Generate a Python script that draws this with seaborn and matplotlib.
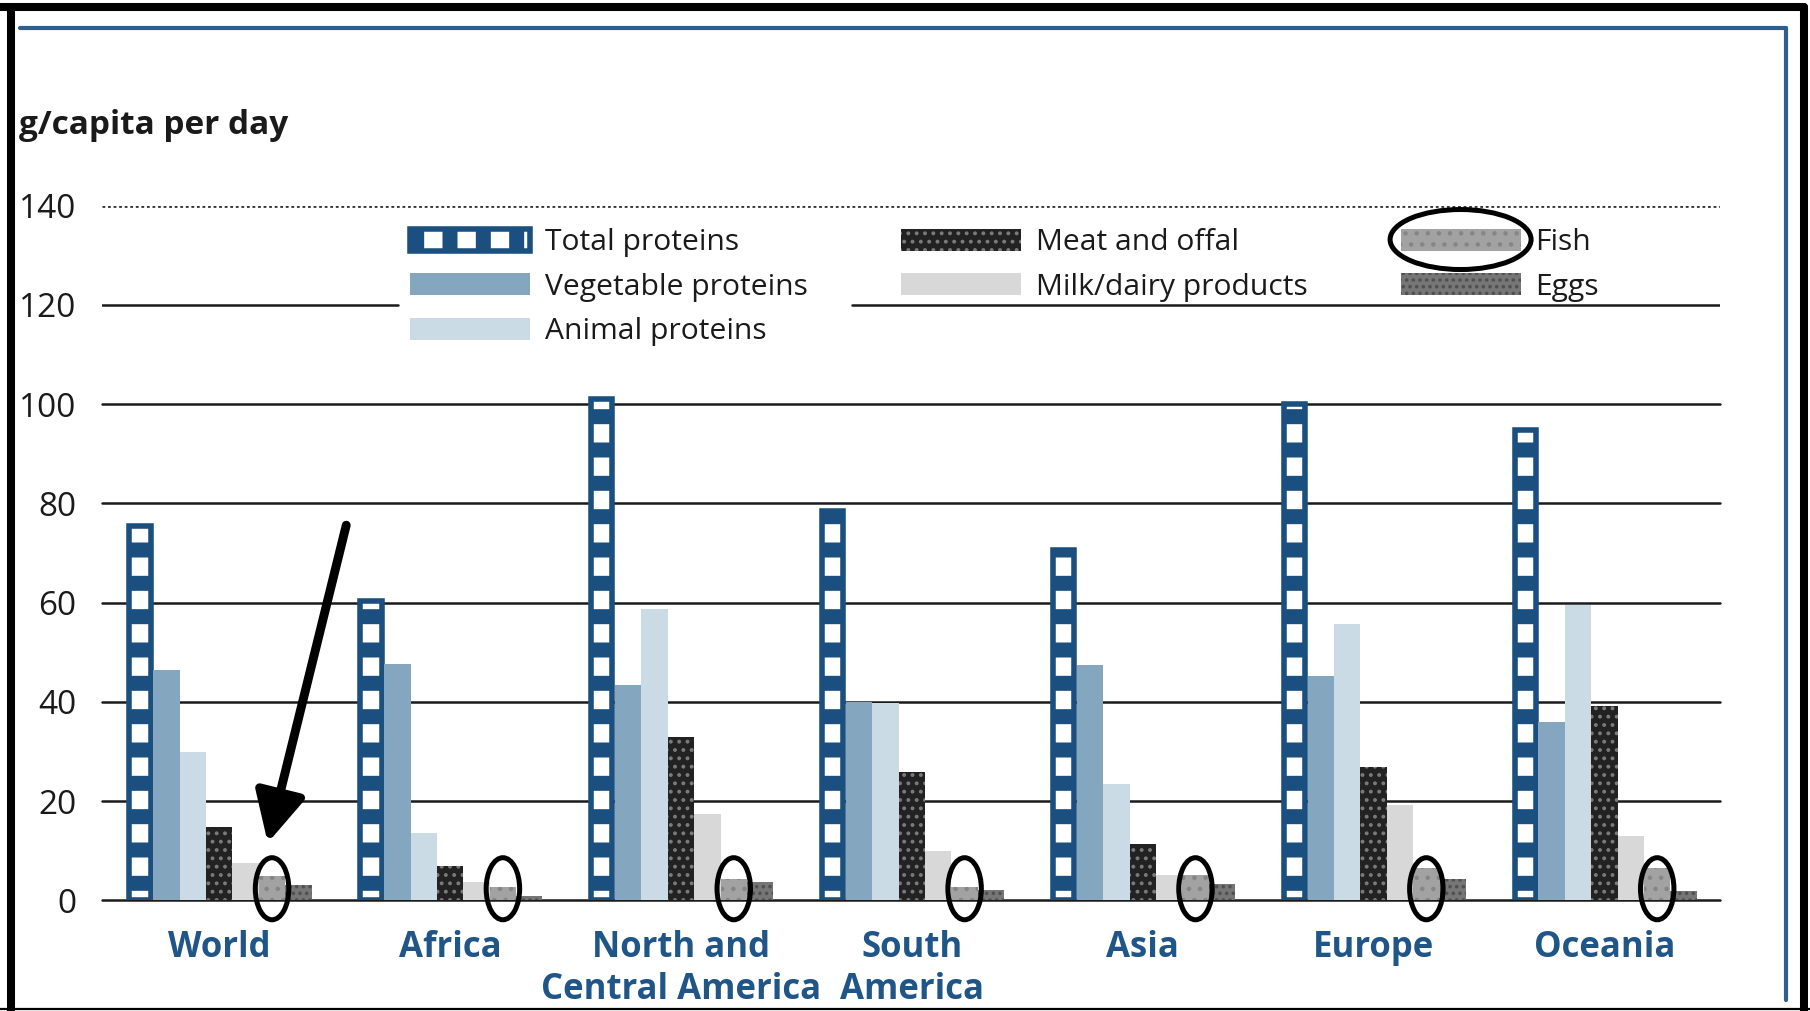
import pandas as pd
import matplotlib.pyplot as plt
import matplotlib.patches as mpatches
from matplotlib.lines import Line2D
import seaborn as sns

# protein supply, g/capita per day
regions = ['World', 'Africa', 'North and\nCentral America', 'South\nAmerica',
           'Asia', 'Europe', 'Oceania']
series = ['Total proteins', 'Vegetable proteins', 'Animal proteins',
          'Meat and offal', 'Milk/dairy products', 'Fish', 'Eggs']
total_proteins = [75.4, 60.4, 101.0, 78.5, 70.5, 100.0, 94.8]
vegetable_proteins = [46.5, 47.6, 43.4, 39.9, 47.4, 45.2, 36.0]
animal_proteins = [29.8, 13.6, 58.7, 39.8, 23.5, 55.6, 59.6]
meat_offal = [14.8, 7.0, 33.0, 25.9, 11.3, 26.9, 39.1]
milk_dairy = [7.6, 3.8, 17.5, 10.0, 5.1, 19.3, 13.0]
fish = [5.0, 2.6, 4.4, 2.6, 5.1, 6.5, 6.5]
eggs = [3.2, 0.8, 3.8, 2.0, 3.3, 4.3, 1.9]
yticks = [0, 20, 40, 60, 80, 100, 120, 140]

sns.set_style('white')
plt.rcParams['font.family'] = ['Open Sans', 'DejaVu Sans']

df = pd.DataFrame({'region': regions,
                   'Total proteins': total_proteins,
                   'Vegetable proteins': vegetable_proteins,
                   'Animal proteins': animal_proteins,
                   'Meat and offal': meat_offal,
                   'Milk/dairy products': milk_dairy,
                   'Fish': fish,
                   'Eggs': eggs})
df = df.melt(id_vars='region', var_name='series', value_name='value')

navy = '#1b4f7f'
label_blue = '#1f5587'
palette = {'Total proteins': 'white',
           'Vegetable proteins': '#84a7bf',
           'Animal proteins': '#cbdbe5',
           'Meat and offal': '#222222',
           'Milk/dairy products': '#d8d8d8',
           'Fish': '#a2a2a2',
           'Eggs': '#767676'}
# hatch, hatch colour, edge width, hatch width
styles = {'Total proteins': ('-', navy, 2.0, 5.4),
          'Meat and offal': ('....', '#7a7a7a', 0, 0.8),
          'Fish': ('...', '#858585', 0, 0.8),
          'Eggs': ('.....', '#505050', 0, 0.8)}

fig = plt.figure(figsize=(9.05, 5.055), dpi=200)
ax = fig.add_axes([0.0561, 0.1094, 0.8941, 0.6873])

sns.barplot(data=df, x='region', y='value', hue='series', order=regions,
            hue_order=series, palette=palette, width=0.8, saturation=1,
            legend=False, ax=ax, zorder=3)


def style_patch(p, name):
    p.set_linewidth(0)
    p.set_edgecolor(palette[name])
    if name in styles:
        h, hc, lw, hlw = styles[name]
        p.set_hatch(h)
        p.set_edgecolor(hc)
        p.set_linewidth(lw)
        if hasattr(p, 'set_hatch_linewidth'):
            p.set_hatch_linewidth(hlw)


for cont, name in zip(ax.containers, series):
    for bar in cont:
        style_patch(bar, name)
        if name == 'Total proteins':
            # keep the outer width of the bar once the thick edge is added
            d = 0.022
            bar.set_x(bar.get_x() + d / 2)
            bar.set_width(bar.get_width() - d)

# grid lines
for t in yticks:
    if t == 140:
        ax.axhline(t, color='#333333', lw=1.0, ls=(0, (1, 1)), zorder=1)
    elif t == 120:
        ax.axhline(t, xmax=0.183, color='#1a1a1a', lw=0.9, zorder=1)
        ax.axhline(t, xmin=0.464, color='#1a1a1a', lw=0.9, zorder=1)
    else:
        ax.axhline(t, color='#1a1a1a', lw=0.9, zorder=1, clip_on=False)

ax.set_xlim(-0.51, 6.5)
ax.set_ylim(0, 140)
ax.set_yticks(yticks)
ax.set_xlabel('')
ax.set_ylabel('')
sns.despine(ax=ax, left=True, bottom=True)
ax.tick_params(axis='y', length=0, labelsize=12, labelcolor='#1a1a1a', pad=9)
ax.tick_params(axis='x', length=0, labelsize=12.5, labelcolor=label_blue, pad=10.5)
for lab in ax.get_xticklabels():
    lab.set_fontweight('bold')
    lab.set_linespacing(1.25)

# circles round the fish bars and arrow to world fish
fish_cont = ax.containers[series.index('Fish')]
for bar in fish_cont:
    cx = bar.get_x() + bar.get_width() / 2
    ax.add_patch(mpatches.Ellipse((cx, 2.35), 0.145, 12.5, fill=False,
                                  ec='black', lw=1.8, clip_on=False, zorder=6))
ax.annotate('', xy=(0.21, 11.6), xytext=(0.55, 75.6),
            arrowprops=dict(arrowstyle='-|>,head_length=0.75,head_width=0.38',
                            color='black', lw=3.2, mutation_scale=20,
                            shrinkA=0, shrinkB=0), zorder=7)

# legend
handles = [mpatches.Patch(facecolor=palette[n], label=n) for n in series]
leg = ax.legend(handles=handles, loc='upper left', bbox_to_anchor=(0.2265, 0.7745),
                bbox_transform=fig.transFigure, ncol=3, frameon=False,
                fontsize=10.8, handlelength=4.0, handleheight=0.75,
                handletextpad=0.5, columnspacing=3.1, labelspacing=0.52,
                borderpad=0, borderaxespad=0)
for p, name in zip(leg.legend_handles, series):
    style_patch(p, name)
    if name == 'Total proteins':
        p.set_hatch('|')
for t in leg.get_texts():
    t.set_color('#1a1a1a')

fig.text(0.0105, 0.876, 'g/capita per day', fontsize=12, fontweight='bold',
         color='#1a1a1a', va='center', ha='left')

# page frame and blue rule
fig.add_artist(Line2D([0.0061, 0.0061], [0.0, 0.9931], color='black', lw=2.9))
fig.add_artist(Line2D([0.0, 0.9967], [0.9931, 0.9931], color='black', lw=2.9))
fig.add_artist(Line2D([0.9967, 0.9967], [0.0, 0.9931], color='black', lw=2.9))
fig.add_artist(Line2D([0.0, 1.0], [0.002, 0.002], color='black', lw=0.8))
fig.add_artist(Line2D([0.011, 0.9867], [0.9723, 0.9723], color='#2d5f8c', lw=1.5))
fig.add_artist(Line2D([0.9867, 0.9867], [0.0109, 0.9723], color='#2d5f8c', lw=1.5))

fig.canvas.draw()
W, H = fig.bbox.width, fig.bbox.height
bb = leg.legend_handles[series.index('Fish')].get_window_extent()
fig.add_artist(mpatches.Ellipse(((bb.x0 + bb.x1) / 2 / W, (bb.y0 + bb.y1) / 2 / H),
                                141 / W, 60 / H, fill=False, ec='black', lw=1.8,
                                transform=fig.transFigure))

fig.savefig('out.png', dpi=200)
